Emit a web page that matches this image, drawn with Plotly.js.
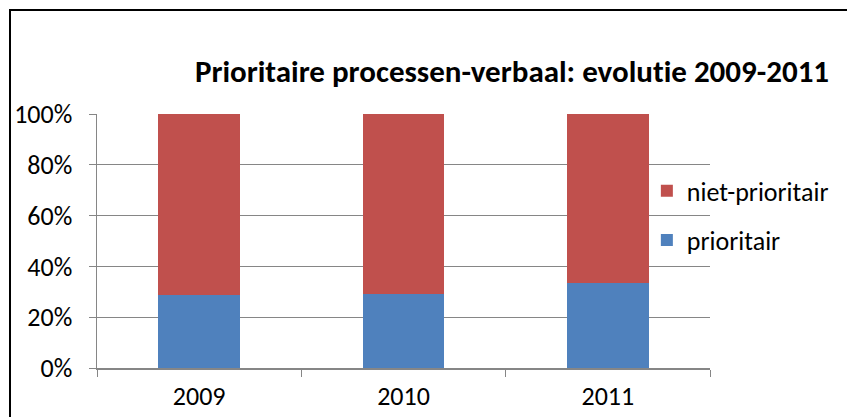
<!DOCTYPE html>
<html>
<head>
<meta charset="utf-8">
<script src="https://cdn.plot.ly/plotly-3.0.1.min.js"></script>
<style>html,body{margin:0;padding:0;background:#fff;}#chart{width:847px;height:417px;}
#chart text{font-variant-ligatures:none;font-feature-settings:"liga" 0,"clig" 0;}</style>
</head>
<body>
<div id="chart"></div>
<script>
var years = ["2009", "2010", "2011"];
var prioritair = [0.286, 0.291, 0.333];
var nietPrioritair = [0.714, 0.709, 0.667];
var yTickVals = [0, 0.2, 0.4, 0.6, 0.8, 1.0];
var yTickText = ["0%", "20%", "40%", "60%", "80%", "100%"];
var titleText = "Prioritaire processen-verbaal: evolutie 2009-2011";

var FONT = "Carlito, Calibri, Liberation Sans, sans-serif";

var traces = [
  {type: "bar", name: "prioritair", x: years, y: prioritair,
   marker: {color: "#4F81BD", line: {width: 0}}, legend: "legend2", hoverinfo: "y"},
  {type: "bar", name: "niet-prioritair", x: years, y: nietPrioritair,
   marker: {color: "#C0504D", line: {width: 0}}, legend: "legend", hoverinfo: "y"}
];

var layout = {
  width: 847, height: 417,
  margin: {l: 97, r: 137, t: 114, b: 49},
  paper_bgcolor: "#ffffff", plot_bgcolor: "#ffffff",
  barmode: "stack", bargap: 0.6,
  font: {family: FONT, color: "#000000", size: 26},
  title: {text: "<b>" + titleText + "</b>", font: {family: FONT, size: 31, color: "#000"},
          x: 0.677, xref: "paper", xanchor: "center", y: 0.83, yref: "container", yanchor: "middle"},
  xaxis: {type: "category", showline: true, linecolor: "#868686", linewidth: 1.5,
          ticks: "outside", tickson: "boundaries", ticklen: 7, tickcolor: "#868686",
          showgrid: false, tickfont: {size: 26, family: FONT}, ticklabelstandoff: 4, fixedrange: true},
  yaxis: {range: [0, 1], tickvals: yTickVals, ticktext: yTickText,
          showline: true, linecolor: "#868686", linewidth: 1.5,
          ticks: "outside", ticklen: 7, tickcolor: "#868686",
          showgrid: true, gridcolor: "#868686", gridwidth: 1.2,
          zeroline: false, tickfont: {size: 26, family: FONT}, ticklabelstandoff: 11, fixedrange: true},
  legend: {x: 0.897, xanchor: "left", y: 0.697, yanchor: "middle", bgcolor: "rgba(0,0,0,0)",
           font: {size: 26, family: FONT}},
  legend2: {x: 0.897, xanchor: "left", y: 0.504, yanchor: "middle", bgcolor: "rgba(0,0,0,0)",
            font: {size: 26, family: FONT}},
  showlegend: true,
  shapes: [{type: "rect", xref: "paper", yref: "paper",
            x0: (10 - 97) / 613, x1: 1.5, y0: -0.5, y1: (368 - 10) / 254,
            line: {color: "#000000", width: 2}, layer: "below"}]
};

Plotly.newPlot("chart", traces, layout, {displayModeBar: false, staticPlot: true});
</script>
</body>
</html>
